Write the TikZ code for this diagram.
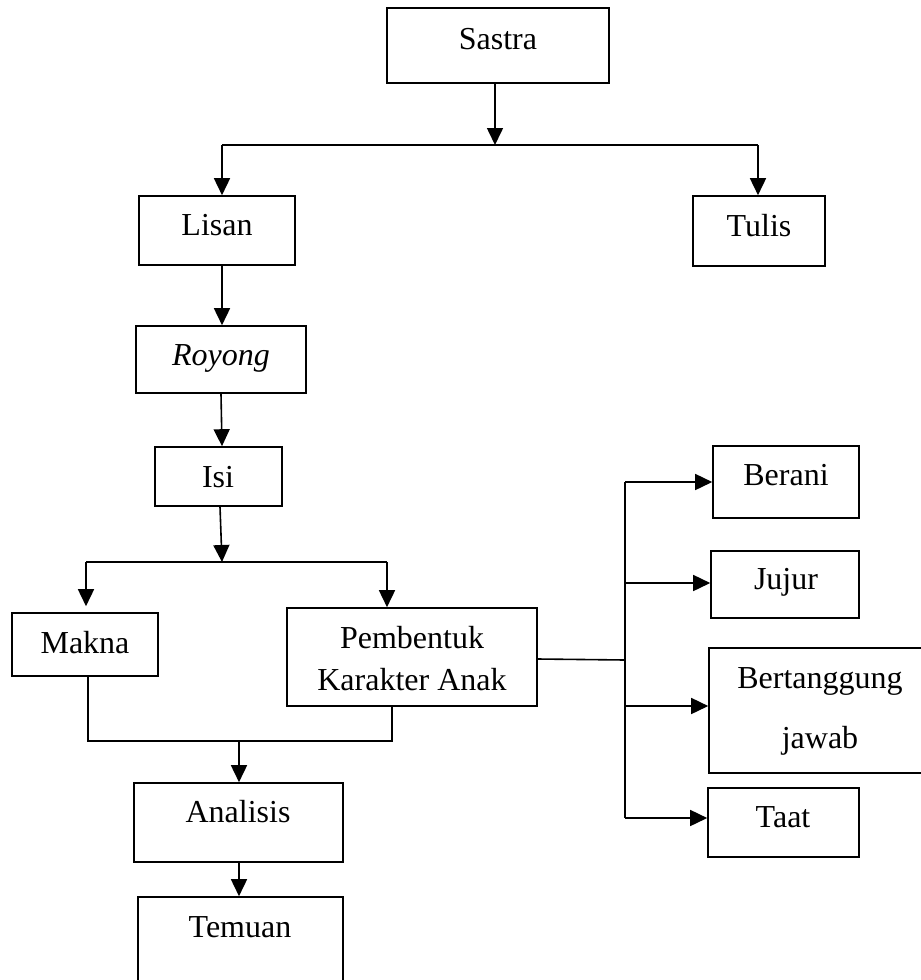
\documentclass[tikz,border=0pt]{standalone}
\usepackage{fontspec}
\setmainfont{Liberation Serif}
\usetikzlibrary{arrows.meta,fit}
\begin{document}
\begin{tikzpicture}[x=1pt,y=-1pt,
  box/.style={draw=black, line width=1.6pt, inner sep=0pt, rectangle},
  lbl/.style={anchor=base, inner sep=0pt, font=\fontsize{32}{38}\selectfont},
  ln/.style={line width=1.6pt},
  arr/.style={line width=1.6pt, -{Triangle[width=16pt,length=17pt]}}]
\clip (0,0) rectangle (921,980);
\fill[white] (0,0) rectangle (921,980);
% boxes
\node[box, fit={(387,8) (609,83)}] (sastra) {};
\node[box, fit={(139,196) (295,265)}] (lisan) {};
\node[box, fit={(693,196) (825,266)}] (tulis) {};
\node[box, fit={(136,326) (306,393)}] (royong) {};
\node[box, fit={(155,447) (282,506)}] (isi) {};
\node[box, fit={(12,613) (158,676)}] (makna) {};
\node[box, fit={(287,608) (537,706)}] (pemb) {};
\node[box, fit={(713,446) (859,518)}] (berani) {};
\node[box, fit={(711,551) (859,618)}] (jujur) {};
\node[box, fit={(709,648) (945,773)}] (bert) {};
\node[box, fit={(708,788) (859,857)}] (taat) {};
\node[box, fit={(134,783) (343,862)}] (analisis) {};
\node[box, fit={(138,897) (343,1000)}] (temuan) {};
% labels
\node[lbl] (t-sastra) at (498,49) {Sastra};
\node[lbl] (t-lisan) at (217,235) {Lisan};
\node[lbl] (t-tulis) at (759,236) {Tulis};
\node[lbl] (t-royong) at (221,365) {\itshape Royong};
\node[lbl] (t-isi) at (218,487) {Isi};
\node[lbl] (t-makna) at (85,653) {Makna};
\node[lbl] (t-pemb1) at (412,648) {Pembentuk};
\node[lbl] (t-pemb2) at (412,690) {Karakter Anak};
\node[lbl] (t-berani) at (786,485) {Berani};
\node[lbl] (t-jujur) at (786,589) {Jujur};
\node[lbl] (t-bert1) at (820,688) {Bertanggung};
\node[lbl] (t-bert2) at (820,748) {jawab};
\node[lbl] (t-taat) at (783,827) {Taat};
\node[lbl] (t-analisis) at (238,822) {Analisis};
\node[lbl] (t-temuan) at (240,937) {Temuan};
% junction coordinates
\coordinate (j1) at (495,145);
\coordinate (j1l) at (222,145);
\coordinate (j1r) at (758,145);
\coordinate (j2) at (222,562);
\coordinate (j2l) at (86,562);
\coordinate (j2r) at (387,562);
\coordinate (j3) at (239,741);
\coordinate (j3l) at (88,741);
\coordinate (j3r) at (392,741);
\coordinate (j4) at (625,660);
\coordinate (j4t) at (625,482);
\coordinate (j4a) at (625,583);
\coordinate (j4b) at (625,706);
\coordinate (j4c) at (625,818);
% connectors
\draw[arr] (sastra.south -| j1) -- (j1);
\draw[ln] (j1l) -- (j1r);
\draw[arr] (j1l) -- (lisan.north -| j1l);
\draw[arr] (j1r) -- (tulis.north -| j1r);
\draw[arr] (lisan.south -| j1l) -- (royong.north -| j1l);
\draw[arr] ([xshift=-1pt]royong.south -| j1l) -- (isi.north -| j1l);
\draw[arr] ([xshift=-2pt]isi.south -| j2) -- (j2);
\draw[ln] (j2l) -- (j2r);
\draw[arr] (j2l) -- ([yshift=6pt]makna.north -| j2l);
\draw[arr] (j2r) -- (pemb.north -| j2r);
\draw[ln] (makna.south -| j3l) -- (j3l) -- (j3r) -- (pemb.south -| j3r);
\draw[arr] (j3) -- (analisis.north -| j3);
\draw[arr] (analisis.south -| j3) -- (temuan.north -| j3);
\draw[ln] (pemb.east |- 0,659) -- (j4);
\draw[ln] (j4t) -- (j4c);
\draw[arr] (j4t) -- (berani.west |- j4t);
\draw[arr] (j4a) -- (jujur.west |- j4a);
\draw[arr] (j4b) -- (bert.west |- j4b);
\draw[arr] (j4c) -- (taat.west |- j4c);
\end{tikzpicture}
\end{document}
